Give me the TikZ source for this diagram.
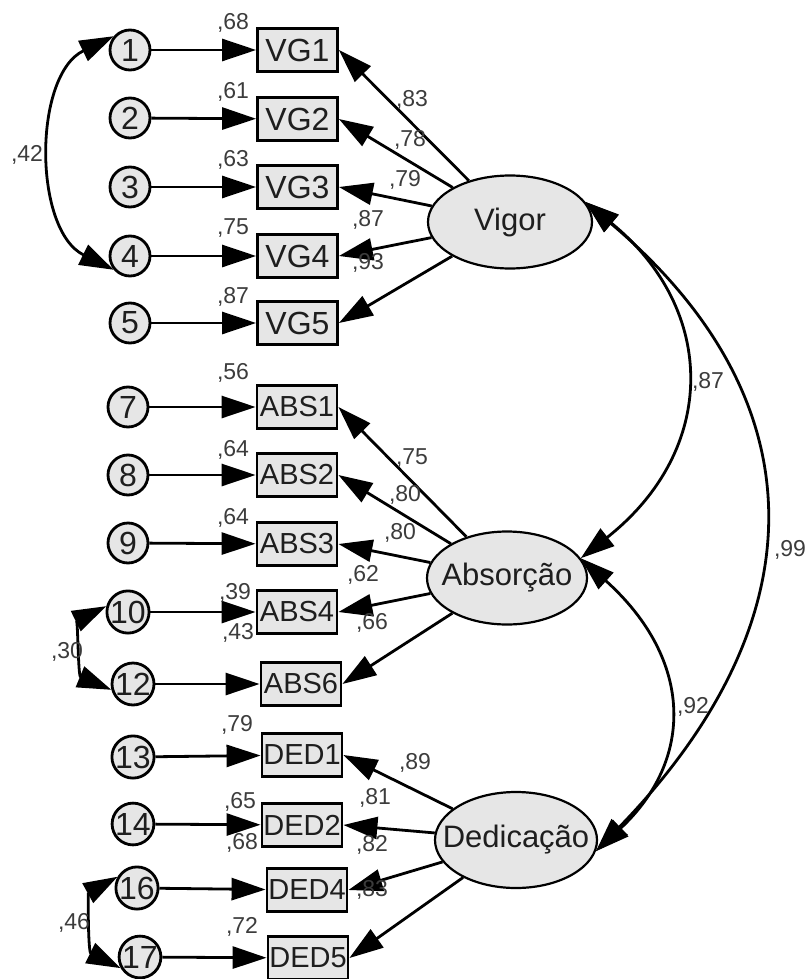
\documentclass[tikz,border=0pt]{standalone}
\usepackage{fontspec}
\setmainfont{Liberation Sans}
\usetikzlibrary{arrows.meta,shapes.geometric}
\definecolor{lg}{RGB}{230,230,230}
\definecolor{tx}{RGB}{30,30,30}
\definecolor{lb}{RGB}{60,60,60}
\begin{document}
\begin{tikzpicture}[x=1pt,y=-1pt,line width=2.8pt,
  arr/.style={-{Triangle[length=34pt,width=22pt]}},
  biarr/.style={{Triangle[length=34pt,width=22pt]}-{Triangle[length=34pt,width=22pt]}},
  err/.style={circle,draw,fill=lg,minimum size=40pt,inner sep=0pt,text=tx,font=\fontsize{32}{32}\selectfont},
  obs/.style={rectangle,draw,fill=lg,minimum width=80pt,minimum height=43pt,inner sep=0pt,text=tx,font=\fontsize{29}{29}\selectfont},
  vgobs/.style={obs,font=\fontsize{32}{32}\selectfont},
  lat/.style={ellipse,draw,line width=2.2pt,fill=lg,minimum width=164pt,minimum height=93pt,inner sep=0pt,text=tx,font=\fontsize{31}{31}\selectfont},
  lbl/.style={inner sep=0pt,text=lb,font=\fontsize{23}{23}\selectfont}]
\useasboundingbox (0,0) rectangle (809,979);

% error terms
\node[err] (e1) at (130,50) {1};
\node[err] (e2) at (130,118) {2};
\node[err] (e3) at (130,187) {3};
\node[err] (e4) at (130,256) {4};
\node[err] (e5) at (130,323) {5};
\node[err] (e7) at (128,407) {7};
\node[err] (e8) at (128,475) {8};
\node[err] (e9) at (128,543) {9};
\node[err] (e10) at (128,612) {10};
\node[err] (e12) at (133,684) {12};
\node[err] (e13) at (133,757) {13};
\node[err] (e14) at (133,824) {14};
\node[err] (e16) at (137,888) {16};
\node[err] (e17) at (140,957) {17};

% observed
\node[vgobs] (vg1) at (297.5,50) {VG1};
\node[vgobs] (vg2) at (297.5,119) {VG2};
\node[vgobs] (vg3) at (297.5,187) {VG3};
\node[vgobs] (vg4) at (297.5,256) {VG4};
\node[vgobs] (vg5) at (297.5,323) {VG5};
\node[obs] (ab1) at (297,407) {ABS1};
\node[obs] (ab2) at (297,475) {ABS2};
\node[obs] (ab3) at (297,544) {ABS3};
\node[obs] (ab4) at (297,612) {ABS4};
\node[obs] (ab6) at (301,684) {ABS6};
\node[obs] (de1) at (302,755) {DED1};
\node[obs] (de2) at (302,825) {DED2};
\node[obs] (de4) at (307,890) {DED4};
\node[obs] (de5) at (308,958) {DED5};

% latent
\node[lat] (vig) at (510,222) {\makebox[0pt]{Vigor}};
\node[lat,minimum width=160pt] (abs) at (507,578) {\makebox[0pt]{Absorção}};
\node[lat,minimum width=162pt,minimum height=96pt] (ded) at (516,840) {\makebox[0pt]{Dedicação}};

% error arrows
\foreach \a/\b in {e1/vg1,e2/vg2,e3/vg3,e4/vg4,e5/vg5,e7/ab1,e8/ab2,e9/ab3,e10/ab4,e12/ab6,e13/de1,e14/de2,e16/de4,e17/de5}
  \draw[arr] (\a) -- (\b);

% loadings
\foreach \b in {vg1,vg2,vg3,vg4,vg5} \draw[arr] (vig) -- (\b.east);
\foreach \b in {ab1,ab2,ab3,ab4,ab6} \draw[arr] (abs) -- (\b.east);
\foreach \b in {de1,de2,de4,de5} \draw[arr] (ded) -- (\b.east);

% correlations
\draw[biarr] (e1.140) .. controls (33,75) and (33,230) .. (e4.220);
\draw[biarr] (e10.165) .. controls (78,620) and (78,676) .. (e12.195);
\draw[biarr] (e16.150) .. controls (88,893) and (88,952) .. (e17.210);
\draw[biarr] (vig.15) .. controls (718,310) and (718,450) .. (abs.15);
\draw[biarr] (vig.15) .. controls (820,400) and (820,620) .. (ded.-8);
\draw[biarr] (abs.15) .. controls (694,660) and (694,760) .. (ded.-8);

% error labels
\node[lbl] (r1) at (233,23) {,68};
\node[lbl] (r2) at (233,92) {,61};
\node[lbl] (r3) at (233,160) {,63};
\node[lbl] (r4) at (233,228) {,75};
\node[lbl] (r5) at (233,297) {,87};
\node[lbl] (r7) at (233,373) {,56};
\node[lbl] (r8) at (233,450) {,64};
\node[lbl] (r9) at (233,518) {,64};
\node[lbl] (r10) at (235,593) {,39};
\node[lbl] (r12) at (238,633) {,43};
\node[lbl] (r13) at (237,725) {,79};
\node[lbl] (r14) at (240,802) {,65};
\node[lbl] (r16) at (242,843) {,68};
\node[lbl] (r17) at (242,927) {,72};

% loading labels
\node[lbl] (v1) at (412,100) {,83};
\node[lbl] (v2) at (410,140) {,78};
\node[lbl] (v3) at (405,180) {,79};
\node[lbl] (v4) at (368,220) {,87};
\node[lbl] (v5) at (368,263) {,93};
\node[lbl] (a1) at (412,458) {,75};
\node[lbl] (a2) at (405,495) {,80};
\node[lbl] (a3) at (400,533) {,80};
\node[lbl] (a4) at (363,575) {,62};
\node[lbl] (a6) at (372,623) {,66};
\node[lbl] (d1) at (415,763) {,89};
\node[lbl] (d2) at (375,798) {,81};
\node[lbl] (d4) at (372,845) {,82};
\node[lbl] (d5) at (372,890) {,83};

% correlation labels
\node[lbl] (c42) at (27,155) {,42};
\node[lbl] (c30) at (67,652) {,30};
\node[lbl] (c46) at (74,923) {,46};
\node[lbl] (c87) at (708,382) {,87};
\node[lbl] (c92) at (693,707) {,92};
\node[lbl] (c99) at (790,550) {,99};
\end{tikzpicture}
\end{document}
